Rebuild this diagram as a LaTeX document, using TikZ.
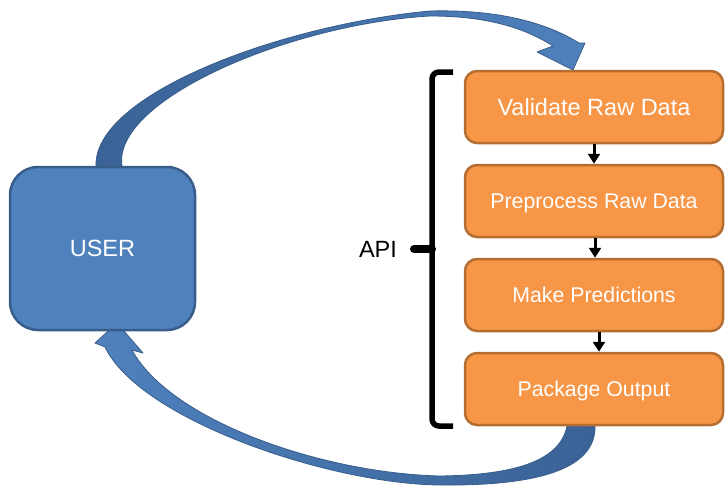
\documentclass[tikz,border=0pt]{standalone}
\usepackage{fontspec}
\setmainfont{Liberation Sans}
\usetikzlibrary{arrows.meta}
\definecolor{ublue}{HTML}{4F81BD}
\definecolor{ubluedark}{HTML}{3A6296}
\definecolor{uborder}{HTML}{385D8A}
\definecolor{ofill}{HTML}{F79646}
\definecolor{oborder}{HTML}{B66D31}
\tikzset{
  bigtext/.style={font=\fontsize{23.5}{28}\selectfont, text height=16.8pt, text depth=0pt},
  smalltext/.style={font=\fontsize{21.3}{26}\selectfont, text height=15.25pt, text depth=0pt},
  stepbox/.style={draw=oborder, fill=ofill, line width=2.5pt, rounded corners=12pt,
    minimum width=258pt, minimum height=72pt, text=white, inner sep=0pt},
  userbox/.style={draw=uborder, fill=ublue, line width=2.5pt, rounded corners=28pt,
    minimum width=185pt, minimum height=163pt, text=white, inner sep=0pt, bigtext},
  flowarrow/.style={line width=3pt, -{Triangle[width=12pt,length=10pt]}},
  bigarrow/.style={draw=uborder, line width=0.8pt, line join=round},
}
\begin{document}
\begin{tikzpicture}[x=1pt,y=-1pt]
\useasboundingbox (0,0) rectangle (726,490);

% top curved arrow
\path[bigarrow, left color=ubluedark, right color=ublue]
  (96,167) .. controls (92,95) and (280,25) .. (430,11)
  .. controls (510,9) and (555,28) .. (579,43)
  -- (585,43) -- (573,70) -- (537,52) -- (553,46)
  .. controls (520,25) and (480,16) .. (430,16)
  .. controls (290,24) and (112,100) .. (122,166) -- cycle;

% bottom curved arrow
\path[bigarrow, left color=ublue, right color=ubluedark]
  (105,347) .. controls (140,420) and (330,484) .. (440,485)
  .. controls (535,486) and (596,470) .. (595,426)
  -- (567,426)
  .. controls (560,462) and (512,475) .. (440,476)
  .. controls (320,473) and (170,420) .. (132,350)
  -- (143,353) -- (117,323) -- (95,343) -- cycle;

\node[userbox] (user) at (102.5,248.5) {USER};

\node[stepbox, bigtext] (v) at (594,107) {Validate Raw Data};
\node[stepbox, smalltext] (p) at (594,201) {Preprocess Raw Data};
\node[stepbox, smalltext] (m) at (594,295) {Make Predictions};
\node[stepbox, smalltext] (o) at (594,389) {Package Output};

\draw[flowarrow] (v.south) -- (p.north);
\draw[flowarrow] ([xshift=1pt]p.south) -- ([xshift=1pt]m.north);
\draw[flowarrow] ([xshift=5pt]m.south) -- ([xshift=5pt]o.north);

% brace
\draw[line width=5.5pt, rounded corners=7pt] (453,72) -- (432,72) -- (432,426) -- (453,426);
\draw[line width=8pt, line cap=round] (432,249) -- (414,249);
\node[bigtext, inner sep=0pt] (api) at (378,249) {API};
\end{tikzpicture}
\end{document}
